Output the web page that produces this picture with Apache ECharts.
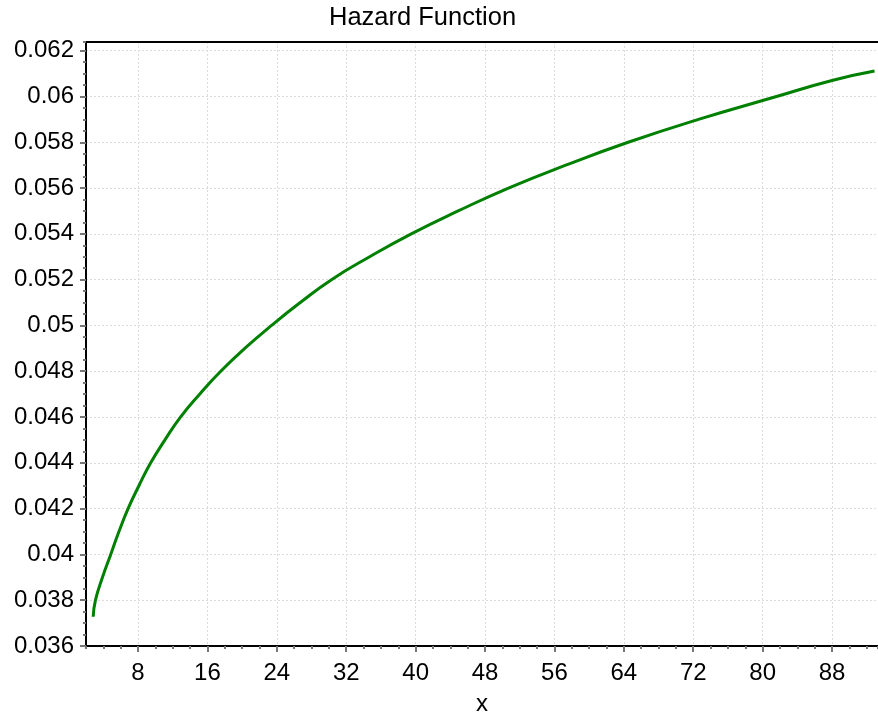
<!DOCTYPE html>
<html>
<head>
<meta charset="utf-8">
<title>Hazard Function</title>
<script src="https://cdn.jsdelivr.net/npm/echarts@6/dist/echarts.min.js"></script>
<style>
    html, body { margin: 0; padding: 0; background: #fff; }
    #chart { width: 878px; height: 721px; }
</style>
</head>
<body>
<div id="chart"></div>
<script>
// data
var xValues = [2.83, 3.09, 3.9, 4.85, 5.8, 6.85, 8.1, 9.46, 11.1, 12.89, 15.1, 17.53, 20.3,
    23.38, 26.7, 30.3, 34.7, 39.5, 44.9, 50.7, 57.3, 64.5, 72.6, 81.6, 88.0, 92.9];
var hazard = [0.03728, 0.038, 0.039, 0.040, 0.041, 0.042, 0.043, 0.044, 0.045, 0.046, 0.047, 0.048, 0.049,
    0.050, 0.051, 0.052, 0.053, 0.054, 0.055, 0.056, 0.057, 0.058, 0.059, 0.060, 0.0607, 0.06111];
var xTicks = [8, 16, 24, 32, 40, 48, 56, 64, 72, 80, 88];

var points = [];
for (var i = 0; i < xValues.length; i++) {
    points.push([xValues[i], hazard[i]]);
}

var myChart = echarts.init(document.getElementById('chart'));

var font = 'Liberation Sans, Arial, sans-serif';
var gridLine = { show: true, lineStyle: { color: '#dcdcdc', width: 1, type: [2, 2] } };

var option = {
    animation: false,
    title: {
        text: 'Hazard Function',
        left: 329,
        top: 5,
        padding: 0,
        textStyle: { fontFamily: font, fontSize: 25.5, fontWeight: 'normal', color: '#000' }
    },
    grid: { left: 86, right: 0, top: 42, bottom: 72 },
    xAxis: [
        {
            type: 'value',
            min: 2,
            max: 93.3,
            name: 'x',
            nameLocation: 'middle',
            nameGap: 46,
            nameTextStyle: { fontFamily: font, fontSize: 24, color: '#000' },
            axisLine: { lineStyle: { color: '#000', width: 2 } },
            axisTick: { customValues: xTicks, length: 6, lineStyle: { color: '#777', width: 2 } },
            axisLabel: { customValues: xTicks, margin: 15, fontFamily: font, fontSize: 24, color: '#000' },
            splitLine: gridLine
        },
        {   // minor ticks
            type: 'value',
            min: 2,
            max: 93.3,
            interval: 2,
            position: 'bottom',
            axisLine: { show: false },
            axisTick: { length: 3, lineStyle: { color: '#777', width: 2 } },
            axisLabel: { show: false },
            splitLine: { show: false }
        },
        {   // top frame line
            type: 'value',
            min: 2,
            max: 93.3,
            position: 'top',
            axisLine: { lineStyle: { color: '#000', width: 2 } },
            axisTick: { show: false },
            axisLabel: { show: false },
            splitLine: { show: false }
        }
    ],
    yAxis: [
        {
            type: 'value',
            min: 0.036,
            max: 0.06238,
            interval: 0.002,
            axisLine: { show: true, lineStyle: { color: '#000', width: 2 } },
            axisTick: { length: 6, lineStyle: { color: '#777', width: 2 } },
            axisLabel: {
                margin: 12,
                showMaxLabel: false,
                fontFamily: font,
                fontSize: 24,
                color: '#000',
                formatter: function (v) { return String(parseFloat(v.toFixed(4))); }
            },
            splitLine: gridLine
        },
        {   // minor ticks
            type: 'value',
            min: 0.036,
            max: 0.06238,
            interval: 0.0005,
            position: 'left',
            axisLine: { show: false },
            axisTick: { length: 3, lineStyle: { color: '#777', width: 2 } },
            axisLabel: { show: false },
            splitLine: { show: false }
        }
    ],
    series: [
        {
            name: 'Hazard',
            type: 'line',
            xAxisIndex: 0,
            yAxisIndex: 0,
            data: points,
            smooth: true,
            showSymbol: false,
            lineStyle: { color: '#008000', width: 3 }
        }
    ]
};

myChart.setOption(option);
</script>
</body>
</html>
